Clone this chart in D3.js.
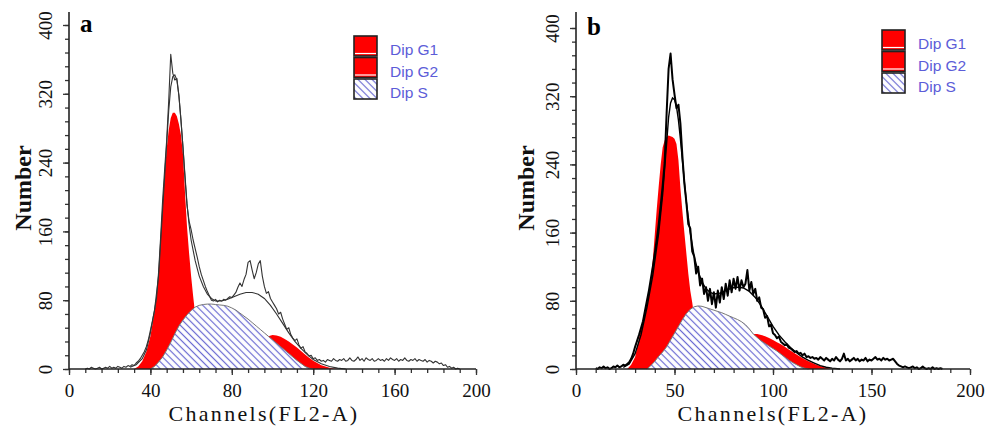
<!DOCTYPE html>
<html>
<head>
<meta charset="utf-8">
<script src="https://cdn.jsdelivr.net/npm/d3@7"></script>
<style>
  body { margin: 0; background: #fff; }
  svg { display: block; }
</style>
</head>
<body>
<script>
var width = 989,
    height = 429;

// ticks
var yTicks = [0, 80, 160, 240, 320, 400];
var aXTicks = [0, 40, 80, 120, 160, 200];
var bXTicks = [0, 50, 100, 150, 200];
var legendLabels = ['Dip G1', 'Dip G2', 'Dip S'];

// panel a: raw histogram, one count per channel from aRawStart
var aRawStart = 8;
var aRaw = [0, 1, 0, 2, 1, 0, 1, 2, 0, 1, 2, 1, 3, 1, 2, 1, 3, 2, 1, 3, 2, 4, 3, 5, 4,
  7, 9, 12, 16, 20, 26, 34, 45, 56, 68, 82, 112, 152, 196, 232, 266, 312, 366, 344, 336,
  338, 318, 290, 258, 222, 190, 172, 162, 150, 140, 130, 119, 110, 103, 96, 90, 85, 80,
  79, 81, 78, 80, 79, 81, 80, 82, 84, 83, 86, 89, 95, 100, 96, 104, 110, 124, 126, 115,
  105, 112, 122, 126, 108, 96, 88, 90, 82, 78, 74, 70, 64, 66, 58, 52, 46, 48, 40, 36,
  33, 35, 28, 24, 26, 20, 18, 15, 16, 12, 13, 10, 11, 9, 10, 8, 11, 10, 9, 12, 10, 9,
  11, 10, 12, 9, 10, 13, 10, 9, 11, 14, 10, 12, 9, 13, 11, 10, 12, 9, 10, 12, 10, 11,
  9, 12, 10, 13, 11, 10, 12, 9, 11, 10, 13, 10, 9, 11, 10, 12, 9, 11, 10, 9, 11, 8, 10,
  9, 7, 9, 8, 6, 7, 4, 5, 2, 3, 1, 2, 0, 1, 0];
var aFit = [[30, 2], [33, 5], [36, 12], [38, 22], [40, 42], [42, 68], [44, 108], [46, 185],
  [48, 262], [49, 300], [50, 328], [51, 340], [52, 342], [53, 336], [54, 318], [55, 290],
  [56, 258], [57, 225], [58, 192], [59, 168], [60, 150], [62, 126], [64, 108], [66, 96],
  [68, 87], [70, 82], [72, 79], [75, 79], [78, 81], [81, 84], [84, 87], [87, 89], [90, 89],
  [93, 87], [96, 82], [99, 74], [102, 64], [105, 53], [108, 42], [111, 32], [114, 24],
  [117, 17], [120, 11], [124, 6], [128, 3], [132, 1], [136, 0]];
var aG1 = [[32, 0], [34, 3], [36, 9], [38, 20], [40, 38], [41, 52], [42, 66], [43, 82],
  [44, 110], [45, 150], [46, 190], [47, 225], [48, 256], [49, 278], [50, 292], [51, 298],
  [52, 298], [53, 294], [54, 285], [55, 272], [56, 250], [57, 205], [58, 165], [59, 135],
  [60, 108], [61, 85], [61.6, 72]];
var aG2 = [[98, 38], [100, 39.5], [102, 39], [104, 37.5], [106, 35], [108, 32], [110, 28.5],
  [112, 25], [114, 21], [116, 17], [118, 13], [120, 9.5], [122, 7], [124, 4.5], [126, 3],
  [128, 1.5], [130, 0.5], [132, 0]];
var aS = [[40, 0], [42, 3], [44, 8], [46, 14], [48, 22], [50, 31], [52, 41], [54, 50],
  [56, 57], [58, 63], [60, 68], [62, 72], [64, 74], [66, 75], [68, 75.5], [70, 75.5],
  [72, 75], [74, 74.5], [76, 74], [78, 73], [80, 71], [82, 68.5], [84, 65], [86, 61.5],
  [88, 58], [90, 54], [92, 50], [94, 46], [96, 42], [98, 38], [100, 34], [102, 30],
  [104, 26], [106, 22], [108, 18], [110, 14], [112, 10], [114, 6.5], [116, 3], [118, 1],
  [120, 0]];

// panel b
var bRawStart = 10;
var bRaw = [1, 0, 2, 1, 3, 1, 2, 0, 1, 3, 2, 4, 2, 3, 5, 4, 6, 8, 12, 18, 26, 33, 40, 48,
  56, 68, 80, 92, 106, 120, 136, 152, 170, 192, 215, 242, 300, 352, 370, 340, 322, 306,
  310, 288, 250, 218, 196, 170, 165, 138, 132, 112, 120, 98, 106, 88, 96, 80, 94, 76, 90,
  72, 92, 78, 96, 82, 100, 86, 104, 90, 106, 94, 108, 92, 104, 96, 100, 116, 92, 102, 88,
  94, 80, 84, 72, 70, 60, 62, 50, 52, 42, 40, 36, 38, 32, 30, 28, 29, 25, 24, 22, 20,
  21, 18, 19, 16, 18, 14, 15, 13, 14, 12, 13, 11, 14, 12, 10, 13, 11, 9, 12, 10, 14, 11,
  9, 12, 18, 10, 12, 9, 11, 13, 10, 12, 9, 11, 10, 13, 9, 11, 10, 12, 14, 11, 12, 10, 13,
  11, 12, 10, 11, 12, 9, 6, 4, 3, 2, 3, 2, 1, 2, 3, 1, 2, 0, 1, 3, 1, 0, 1, 0, 2, 0, 1,
  0, 1, 0];
var bFit = [[24, 2], [27, 6], [30, 18], [33, 40], [36, 72], [39, 110], [42, 160], [44, 205],
  [46, 265], [47, 295], [48, 312], [49, 318], [50, 316], [51, 308], [52, 292], [53, 270],
  [54, 245], [55, 220], [56, 196], [58, 160], [60, 132], [62, 114], [64, 102], [66, 94],
  [68, 90], [70, 88], [73, 89], [76, 92], [79, 95], [82, 96], [85, 95], [88, 91], [91, 84],
  [94, 74], [97, 62], [100, 50], [103, 40], [106, 32], [109, 25], [112, 19], [115, 14],
  [118, 10], [121, 7], [124, 4], [127, 2], [130, 1], [134, 0]];
var bG1 = [[26, 0], [28, 5], [30, 14], [32, 36], [33, 48], [34, 58], [35, 68], [36, 78],
  [37, 92], [38, 108], [39, 128], [40, 158], [41, 188], [42, 215], [43, 240], [44, 260],
  [45, 268], [46, 272], [47, 274], [48, 273], [49, 272], [50, 270], [51, 264], [52, 245],
  [53, 212], [54, 185], [55, 160], [56, 136], [57, 112], [58, 92], [59, 78], [59.3, 73]];
var bG2 = [[90, 41], [92, 41], [94, 40], [96, 38.5], [98, 36.5], [100, 34], [102, 31.5],
  [104, 29], [106, 26], [108, 23], [110, 20], [112, 17], [114, 14], [116, 11.5], [118, 9],
  [120, 7], [122, 5], [124, 3.5], [126, 2], [128, 1], [130, 0]];
var bS = [[36, 0], [38, 4], [40, 9], [42, 15], [44, 20], [46, 26], [48, 34], [50, 42],
  [52, 50], [54, 58], [56, 65], [58, 70], [60, 73], [62, 74], [64, 73.5], [66, 72],
  [68, 70.5], [70, 69], [72, 67.5], [74, 66], [76, 64], [78, 62], [80, 60], [82, 58],
  [84, 55.5], [86, 52], [88, 47], [90, 41], [92, 37], [94, 33], [96, 30], [98, 27], [100, 24],
  [102, 21], [104, 17.5], [106, 14], [108, 10.5], [110, 7.5], [112, 5], [114, 2.5],
  [116, 1], [118, 0]];

var red = '#ff0000';
var serif = '"Liberation Serif", "Times New Roman", serif';

var svg = d3.select('body').append('svg')
    .attr('width', width)
    .attr('height', height);

// hatch used for the S phase
var pat = svg.append('defs').append('pattern')
    .attr('id', 'hatch')
    .attr('patternUnits', 'userSpaceOnUse')
    .attr('width', 6)
    .attr('height', 5)
    .attr('patternTransform', 'rotate(45)');
pat.append('rect').attr('width', 6).attr('height', 5).attr('fill', '#fff');
pat.append('line')
    .attr('x1', 0).attr('y1', 2.5).attr('x2', 6).attr('y2', 2.5)
    .attr('stroke', '#6a6ad2').attr('stroke-width', 1.2);

function drawPanel(p) {
  var x = d3.scaleLinear().domain([0, 200]).range([p.left, p.right]);
  var y = d3.scaleLinear().domain([0, 400]).range([p.bottom, p.top]);
  var g = svg.append('g');

  var area = d3.area()
      .x(function(d) { return x(d[0]); })
      .y0(y(0))
      .y1(function(d) { return y(d[1]); });
  var line = d3.line()
      .x(function(d) { return x(d[0]); })
      .y(function(d) { return y(d[1]); });

  // G1/G2 sit on top of S, so draw red first and let S cover the lower part
  g.append('path').datum(p.g1).attr('d', area).attr('fill', red);
  g.append('path').datum(p.g2).attr('d', area).attr('fill', red);
  g.append('path').datum(p.s).attr('d', area).attr('fill', 'url(#hatch)');
  g.append('path').datum(p.s).attr('d', line)
      .attr('fill', 'none').attr('stroke', '#777').attr('stroke-width', 1);

  var rawPts = p.raw.map(function(v, i) { return [p.rawStart + i, v]; });
  g.append('path').datum(p.fit).attr('d', line)
      .attr('fill', 'none').attr('stroke', p.lineColor).attr('stroke-width', p.fitWidth);
  g.append('path').datum(rawPts).attr('d', line)
      .attr('fill', 'none').attr('stroke', p.lineColor).attr('stroke-width', p.rawWidth)
      .attr('stroke-linejoin', 'round');

  // y axis
  var yMinor = g.append('g').attr('transform', 'translate(' + p.left + ',0)')
      .call(d3.axisLeft(y).tickValues(d3.range(0, 401, 16)).tickSize(4).tickFormat(''));
  var yAxis = g.append('g').attr('transform', 'translate(' + p.left + ',0)')
      .call(d3.axisLeft(y).tickValues(yTicks).tickSize(6));
  yAxis.selectAll('text')
      .attr('transform', 'rotate(-90)')
      .attr('x', 0).attr('y', -17).attr('dy', 0)
      .attr('text-anchor', 'middle');

  // x axis
  var xMinor = g.append('g').attr('transform', 'translate(0,' + p.bottom + ')')
      .call(d3.axisBottom(x).tickValues(d3.range(0, 201, p.xMinor)).tickSize(4).tickFormat(''));
  var xAxis = g.append('g').attr('transform', 'translate(0,' + p.bottom + ')')
      .call(d3.axisBottom(x).tickValues(p.xTicks).tickSize(6).tickPadding(9));

  [yMinor, yAxis, xMinor, xAxis].forEach(function(a) {
    a.select('.domain').remove();
    a.selectAll('line').attr('stroke', '#333').attr('stroke-width', 1.3);
    a.selectAll('text').style('font-family', serif).style('font-size', '19px').attr('fill', '#111');
  });

  g.append('line')
      .attr('x1', p.left).attr('x2', p.left)
      .attr('y1', p.axisTop).attr('y2', p.bottom)
      .attr('stroke', '#222').attr('stroke-width', 1.6);
  g.append('line')
      .attr('x1', p.left).attr('x2', p.right)
      .attr('y1', p.bottom).attr('y2', p.bottom)
      .attr('stroke', '#222').attr('stroke-width', 1.6);

  // labels
  g.append('text')
      .attr('x', p.left + 11).attr('y', p.top + 7)
      .style('font-family', serif).style('font-size', '25px').style('font-weight', 'bold')
      .text(p.letter);
  g.append('text')
      .attr('transform', 'translate(' + p.yLabelX + ',188) rotate(-90)')
      .attr('text-anchor', 'middle')
      .style('font-family', serif).style('font-size', '24px').style('font-weight', 'bold')
      .attr('fill', '#111')
      .text('Number');
  g.append('text')
      .attr('x', p.xLabelX).attr('y', 421)
      .attr('text-anchor', 'middle')
      .style('font-family', serif).style('font-size', '22px')
      .style('letter-spacing', '2.3px')
      .attr('fill', '#111')
      .text('Channels(FL2-A)');

  // legend
  var lg = g.append('g').attr('transform', 'translate(' + p.legendX + ',' + p.legendY + ')');
  var rows = lg.selectAll('g').data(legendLabels).enter().append('g')
      .attr('transform', function(d, i) { return 'translate(0,' + (i * 21.5) + ')'; });
  rows.append('rect')
      .attr('width', 23).attr('height', 20)
      .attr('fill', function(d, i) { return i < 2 ? red : 'url(#hatch)'; })
      .attr('stroke', '#222').attr('stroke-width', 1.6);
  rows.filter(function(d, i) { return i < 2; }).append('line')
      .attr('x1', 1).attr('x2', 22).attr('y1', 17.5).attr('y2', 17.5)
      .attr('stroke', '#fff').attr('stroke-width', 1.2);
  rows.append('text')
      .attr('x', 36).attr('y', 19)
      .style('font-family', '"Liberation Sans", Arial, sans-serif').style('font-size', '15.5px')
      .attr('fill', '#5c5cd8')
      .text(function(d) { return d; });
}

drawPanel({
  letter: 'a', left: 69, right: 476, bottom: 369, top: 25, axisTop: 12,
  xTicks: aXTicks, xMinor: 8, yLabelX: 31, xLabelX: 264,
  raw: aRaw, rawStart: aRawStart, fit: aFit, g1: aG1, g2: aG2, s: aS,
  lineColor: '#333', rawWidth: 1.1, fitWidth: 1.1,
  legendX: 354, legendY: 36
});
drawPanel({
  letter: 'b', left: 576, right: 970, bottom: 369, top: 28, axisTop: 12,
  xTicks: bXTicks, xMinor: 10, yLabelX: 534, xLabelX: 773,
  raw: bRaw, rawStart: bRawStart, fit: bFit, g1: bG1, g2: bG2, s: bS,
  lineColor: '#000', rawWidth: 2, fitWidth: 1.4,
  legendX: 882, legendY: 30
});
</script>
</body>
</html>
